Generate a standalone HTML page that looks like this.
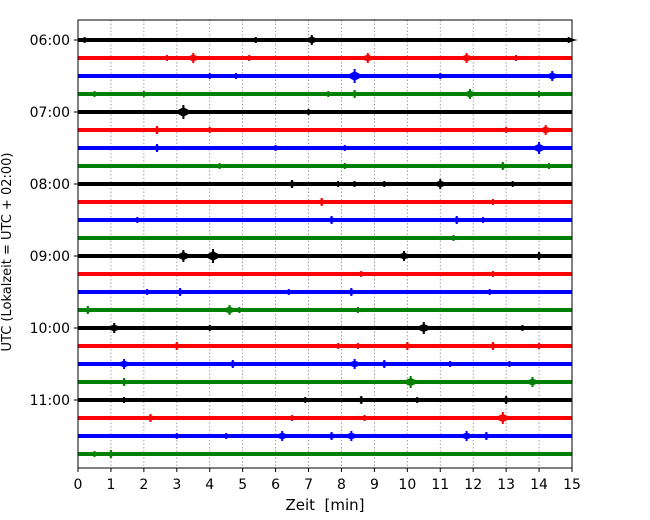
<!DOCTYPE html>
<html><head><meta charset="utf-8"><style>
body{margin:0;background:#fff;}
svg{display:block;font-family:"DejaVu Sans","Liberation Sans",sans-serif;}
</style></head><body>
<svg id="chart" width="650" height="520"></svg>
<script>
const rowLabels = ["06:00","","","","07:00","","","","08:00","","","","09:00","","","","10:00","","","","11:00","","",""];
const rowColors = ["#000","#f00","#00f","#008000"];
const xTicks = [0,1,2,3,4,5,6,7,8,9,10,11,12,13,14,15];
const row0=[[0.2,3],[2.1,2],[5.4,3],[7.1,5],[8.7,2],[14.9,3]];
const row1=[[2.7,3],[3.5,5],[5.2,3],[8.8,5],[11.8,5],[13.3,3]];
const row2=[[4,3],[4.8,3],[8.4,7],[11,3],[14.4,5]];
const row3=[[0.5,3],[2,3],[7.6,3],[8.4,4],[11.9,5],[14,3]];
const row4=[[1.5,2],[3.2,7],[7,3]];
const row5=[[2.4,4],[4,3],[13,3],[14.2,5]];
const row6=[[2.4,4],[6,3],[8.1,3],[12.9,2],[14,6]];
const row7=[[4.3,3],[8.1,3],[12.9,4],[14.3,3]];
const row8=[[6.5,4],[7.9,3],[8.4,3],[9.3,3],[11,5],[13.2,3]];
const row9=[[1.8,2],[7.4,4],[12.6,3]];
const row10=[[1.8,3],[7.7,4],[11.5,4],[12.3,3]];
const row11=[[2,2],[11.4,3]];
const row12=[[3.2,6],[4.1,7],[9.9,5],[14,4]];
const row13=[[8.6,3],[12.6,3]];
const row14=[[2.1,3],[3.1,4],[6.4,3],[8.3,4],[12.5,3]];
const row15=[[0.3,4],[4.6,5],[4.9,3],[8.5,3],[12.8,2]];
const row16=[[1.1,5],[4,3],[7,2],[10.5,6],[13.5,3]];
const row17=[[3,4],[7.9,3],[8.5,3],[10,4],[12.6,4],[14,3]];
const row18=[[1.4,5],[4.7,4],[8.4,5],[9.3,4],[11.3,3],[13.1,3]];
const row19=[[1.4,4],[3.2,2],[10.1,6],[13.8,5]];
const row20=[[1.4,3],[6.9,3],[8.6,4],[10.3,3],[13,4]];
const row21=[[2.2,4],[6.5,3],[8.7,3],[12.9,6]];
const row22=[[3,3],[4.5,3],[6.2,5],[7.7,4],[8.3,5],[11.8,5],[12.4,4]];
const row23=[[0.5,3],[1,4]];
const rowEvents=[row0,row1,row2,row3,row4,row5,row6,row7,row8,row9,row10,row11,row12,row13,row14,row15,row16,row17,row18,row19,row20,row21,row22,row23];

const L=78,R=572,T=20,B=468,Y0=40,DY=18;
const xs=m=>L+(m/15)*(R-L);
const ys=i=>Y0+i*DY;
const svg=document.getElementById('chart');
const NS="http://www.w3.org/2000/svg";
function mk(tag,attrs,parent){const e=document.createElementNS(NS,tag);for(const k in attrs)e.setAttribute(k,attrs[k]);(parent||svg).appendChild(e);return e;}

xTicks.forEach(t=>{
  const g=mk('line',{x1:xs(t),x2:xs(t),y1:T,y2:B,stroke:'#888','stroke-width':0.8,'stroke-dasharray':'1.5,2'});
  
  
});
rowEvents.forEach((ev,i)=>{
  const c=rowColors[i%4];const y=ys(i);
  const ln=mk('line',{x1:L,x2:R,y1:y,y2:y,stroke:c,'stroke-width':4});
  
  
  ev.forEach(e=>{
    const x=xs(e[0]),a=e[1];
    const p=mk('polygon',{points:`${x-9},${y} ${x},${y-a*0.7} ${x+9},${y} ${x},${y+a*0.7}`,fill:c});
    
    
    const s=mk('line',{x1:x,x2:x,y1:y-a,y2:y+a,stroke:c,'stroke-width':2});
    
    
  });
  if(rowLabels[i]){
    const tk=mk('line',{x1:L-4,x2:L,y1:y,y2:y,stroke:'#000','stroke-width':1});
    
    
    const tx=mk('text',{x:L-8,y:y+5,'text-anchor':'end','font-size':14});
    tx.textContent=rowLabels[i];
    
    
  }
});
const fr=mk('rect',{x:L,y:T,width:R-L,height:B-T,fill:'none',stroke:'#000','stroke-width':1});


xTicks.forEach(t=>{
  const tk=mk('line',{x1:xs(t),x2:xs(t),y1:B,y2:B+4,stroke:'#000','stroke-width':1});
  
  
  const tx=mk('text',{x:xs(t),y:B+21,'text-anchor':'middle','font-size':14});
  tx.textContent=t;
  
  
});
const xl=mk('text',{x:(L+R)/2,y:510,'text-anchor':'middle','font-size':15,style:'white-space:pre'});
xl.textContent='Zeit  [min]';


const yl=mk('text',{x:0,y:0,'text-anchor':'middle','font-size':13,transform:'translate(11,252) rotate(-90)'});
yl.textContent='UTC (Lokalzeit = UTC + 02:00)';


</script>
</body></html>
